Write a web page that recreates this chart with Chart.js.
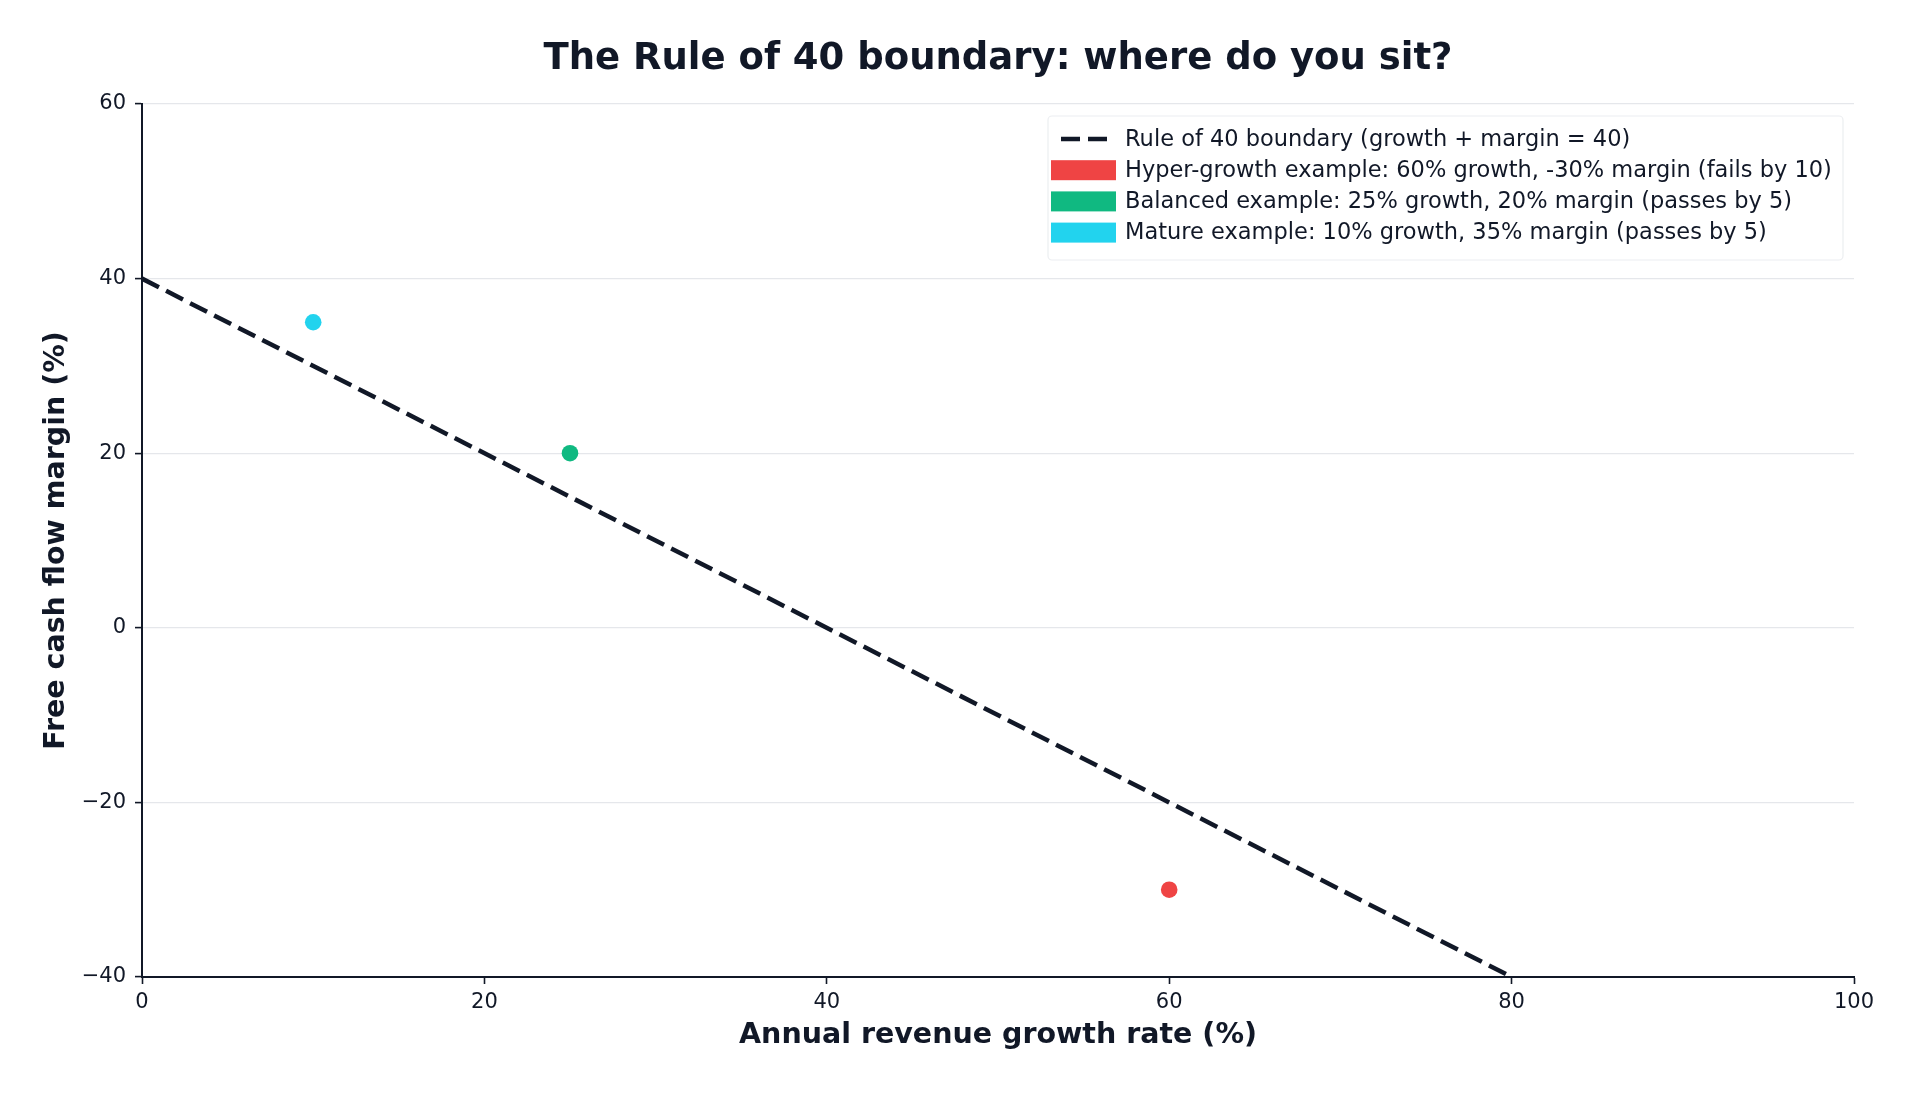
<!DOCTYPE html>
<html>
<head>
<meta charset="utf-8">
<script src="https://cdn.jsdelivr.net/npm/chart.js@4/dist/chart.umd.min.js"></script>
<style>
  html, body { margin: 0; padding: 0; background: #ffffff; }
  #wrap { width: 1920px; height: 1095px; }
</style>
</head>
<body>
<div id="wrap"><canvas id="c" width="1920" height="1095"></canvas></div>
<script>
// ---- data ----
const chartTitle = "The Rule of 40 boundary: where do you sit?";
const xAxisTitle = "Annual revenue growth rate (%)";
const yAxisTitle = "Free cash flow margin (%)";

const boundaryLabel = "Rule of 40 boundary (growth + margin = 40)";
const boundaryGrowth = [0, 80];
const boundaryMargin = [40, -40];

const exampleLabels = [
  "Hyper-growth example: 60% growth, -30% margin (fails by 10)",
  "Balanced example: 25% growth, 20% margin (passes by 5)",
  "Mature example: 10% growth, 35% margin (passes by 5)"
];
const exampleGrowth = [60, 25, 10];
const exampleMargin = [-30, 20, 35];
const exampleColors = ["#ef4444", "#10b981", "#22d3ee"];

const xTicks = [0, 20, 40, 60, 80, 100];
const yTicks = [-40, -20, 0, 20, 40, 60];

// ---- styles ----
const INK = "#111827";
const GRID = "#e5e7eb";
const FONT = "'DejaVu Sans', 'Liberation Sans', sans-serif";

Chart.defaults.font.family = FONT;
Chart.defaults.color = INK;

const datasets = [{
  type: "line",
  label: boundaryLabel,
  data: boundaryGrowth.map((g, i) => ({ x: g, y: boundaryMargin[i] })),
  borderColor: INK,
  borderWidth: 4.5,
  borderDash: [19, 8],
  pointRadius: 0,
  fill: false,
  tension: 0,
  order: 1
}];
exampleLabels.forEach((lab, i) => {
  datasets.push({
    type: "scatter",
    label: lab,
    data: [{ x: exampleGrowth[i], y: exampleMargin[i] }],
    backgroundColor: exampleColors[i],
    borderColor: exampleColors[i],
    borderWidth: 0,
    pointRadius: 8.3,
    pointHoverRadius: 8.3,
    order: 0
  });
});

const fmt = v => (v < 0 ? "\u2212" + Math.abs(v) : String(v));

// center the title over the plot area (as in the reference)
const titleOverPlot = {
  id: "titleOverPlot",
  afterLayout(chart) {
    if (chart.titleBlock) {
      chart.titleBlock.left = chart.chartArea.left;
      chart.titleBlock.right = chart.chartArea.right;
    }
  }
};

// legend drawn inside the plot, upper right
const innerLegend = {
  id: "innerLegend",
  afterDraw(chart) {
    const ctx = chart.ctx;
    const area = chart.chartArea;
    const boxRight = area.right - 11;
    const boxTop = area.top + 12;
    const boxLeft = 1048;
    const boxBottom = 260;
    const rowH = 31.2;
    const firstRow = 139;
    const handleX = boxLeft + 3;
    const handleW = 65;
    const textX = boxLeft + 77;

    ctx.save();
    ctx.beginPath();
    const r = 4;
    ctx.moveTo(boxLeft + r, boxTop);
    ctx.arcTo(boxRight, boxTop, boxRight, boxBottom, r);
    ctx.arcTo(boxRight, boxBottom, boxLeft, boxBottom, r);
    ctx.arcTo(boxLeft, boxBottom, boxLeft, boxTop, r);
    ctx.arcTo(boxLeft, boxTop, boxRight, boxTop, r);
    ctx.closePath();
    ctx.fillStyle = "rgba(255,255,255,0.85)";
    ctx.fill();
    ctx.strokeStyle = "#eceef1";
    ctx.lineWidth = 1.2;
    ctx.stroke();

    ctx.font = "22.5px " + FONT;
    ctx.textBaseline = "middle";
    ctx.textAlign = "left";
    chart.data.datasets.forEach((ds, i) => {
      const cy = firstRow + i * rowH;
      if (ds.type === "line") {
        ctx.strokeStyle = ds.borderColor;
        ctx.lineWidth = ds.borderWidth;
        ctx.setLineDash(ds.borderDash);
        ctx.beginPath();
        ctx.moveTo(handleX + 10, cy);
        ctx.lineTo(handleX + 56, cy);
        ctx.stroke();
        ctx.setLineDash([]);
      } else {
        ctx.fillStyle = ds.backgroundColor;
        ctx.fillRect(handleX, cy - 10, handleW, 20);
      }
      ctx.fillStyle = INK;
      ctx.fillText(ds.label, textX, cy + 1);
    });
    ctx.restore();
  }
};

new Chart(document.getElementById("c"), {
  data: { datasets },
  options: {
    responsive: false,
    animation: false,
    devicePixelRatio: 1,
    layout: { padding: { left: 0, right: 66, top: 0, bottom: 0 } },
    plugins: {
      legend: { display: false },
      tooltip: { enabled: false },
      title: {
        display: true,
        text: chartTitle,
        color: INK,
        font: { size: 37, weight: "bold", family: FONT },
        padding: { top: 36.8, bottom: 22.8 }
      }
    },
    scales: {
      x: {
        type: "linear",
        position: "bottom",
        min: xTicks[0],
        max: xTicks[xTicks.length - 1],
        afterBuildTicks: s => { s.ticks = xTicks.map(v => ({ value: v })); },
        afterFit: s => { s.height = 118; },
        ticks: {
          color: INK,
          font: { size: 21 },
          padding: 6,
          maxRotation: 0,
          callback: v => fmt(v)
        },
        grid: {
          drawOnChartArea: false,
          drawTicks: true,
          tickLength: 7,
          tickColor: INK,
          tickWidth: 1.6
        },
        border: { display: true, color: INK, width: 2 },
        title: {
          display: true,
          text: xAxisTitle,
          color: INK,
          font: { size: 28.5, weight: "bold" },
          padding: { top: 0, bottom: 42 }
        }
      },
      y: {
        type: "linear",
        position: "left",
        min: yTicks[0],
        max: yTicks[yTicks.length - 1],
        afterBuildTicks: s => { s.ticks = yTicks.map(v => ({ value: v })); },
        afterFit: s => { s.width = 142; },
        ticks: {
          color: INK,
          font: { size: 21 },
          padding: 9,
          callback: v => fmt(v)
        },
        grid: {
          drawOnChartArea: true,
          color: GRID,
          lineWidth: 1.2,
          drawTicks: true,
          tickLength: 7,
          tickColor: INK,
          tickWidth: 1.6
        },
        border: { display: true, color: INK, width: 2 },
        title: {
          display: true,
          text: yAxisTitle,
          color: INK,
          font: { size: 28.5, weight: "bold" },
          padding: { top: 39, bottom: 0 }
        }
      }
    }
  },
  plugins: [titleOverPlot, innerLegend]
});
</script>
</body>
</html>
